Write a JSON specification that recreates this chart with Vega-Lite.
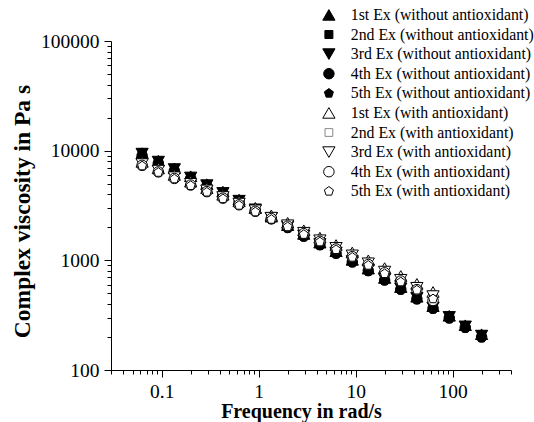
{
  "$schema": "https://vega.github.io/schema/vega-lite/v6.json",
  "width": 400,
  "height": 329,
  "autosize": {"type": "none"},
  "padding": {"left": 111, "top": 41, "right": 23, "bottom": 52},
  "background": "white",
  "config": {"view": {"stroke": null}, "font": "Liberation Serif"},
  "datasets": {
    "pts": [
      {"series": "1st Ex (without antioxidant)", "freq": 0.0628, "visc": 9500}, {"series": "1st Ex (without antioxidant)", "freq": 0.0923, "visc": 8100}, {"series": "1st Ex (without antioxidant)", "freq": 0.135, "visc": 6900}, {"series": "1st Ex (without antioxidant)", "freq": 0.199, "visc": 5850}, {"series": "1st Ex (without antioxidant)", "freq": 0.292, "visc": 4950}, {"series": "1st Ex (without antioxidant)", "freq": 0.428, "visc": 4230}, {"series": "1st Ex (without antioxidant)", "freq": 0.628, "visc": 3580}, {"series": "1st Ex (without antioxidant)", "freq": 0.923, "visc": 3000}, {"series": "1st Ex (without antioxidant)", "freq": 1.35, "visc": 2500}, {"series": "1st Ex (without antioxidant)", "freq": 1.99, "visc": 2090}, {"series": "1st Ex (without antioxidant)", "freq": 2.92, "visc": 1740}, {"series": "1st Ex (without antioxidant)", "freq": 4.28, "visc": 1450}, {"series": "1st Ex (without antioxidant)", "freq": 6.28, "visc": 1210}, {"series": "1st Ex (without antioxidant)", "freq": 9.23, "visc": 1010}, {"series": "1st Ex (without antioxidant)", "freq": 13.5, "visc": 840}, {"series": "1st Ex (without antioxidant)", "freq": 19.9, "visc": 690}, {"series": "1st Ex (without antioxidant)", "freq": 29.2, "visc": 570}, {"series": "1st Ex (without antioxidant)", "freq": 42.8, "visc": 465}, {"series": "1st Ex (without antioxidant)", "freq": 62.8, "visc": 382}, {"series": "1st Ex (without antioxidant)", "freq": 92.3, "visc": 312}, {"series": "1st Ex (without antioxidant)", "freq": 135, "visc": 256}, {"series": "1st Ex (without antioxidant)", "freq": 199, "visc": 212},
      {"series": "2nd Ex (without antioxidant)", "freq": 0.0628, "visc": 9600}, {"series": "2nd Ex (without antioxidant)", "freq": 0.0923, "visc": 8000}, {"series": "2nd Ex (without antioxidant)", "freq": 0.135, "visc": 6750}, {"series": "2nd Ex (without antioxidant)", "freq": 0.199, "visc": 5750}, {"series": "2nd Ex (without antioxidant)", "freq": 0.292, "visc": 4880}, {"series": "2nd Ex (without antioxidant)", "freq": 0.428, "visc": 4150}, {"series": "2nd Ex (without antioxidant)", "freq": 0.628, "visc": 3520}, {"series": "2nd Ex (without antioxidant)", "freq": 0.923, "visc": 2940}, {"series": "2nd Ex (without antioxidant)", "freq": 1.35, "visc": 2460}, {"series": "2nd Ex (without antioxidant)", "freq": 1.99, "visc": 2050}, {"series": "2nd Ex (without antioxidant)", "freq": 2.92, "visc": 1710}, {"series": "2nd Ex (without antioxidant)", "freq": 4.28, "visc": 1430}, {"series": "2nd Ex (without antioxidant)", "freq": 6.28, "visc": 1200}, {"series": "2nd Ex (without antioxidant)", "freq": 9.23, "visc": 995}, {"series": "2nd Ex (without antioxidant)", "freq": 13.5, "visc": 835}, {"series": "2nd Ex (without antioxidant)", "freq": 19.9, "visc": 685}, {"series": "2nd Ex (without antioxidant)", "freq": 29.2, "visc": 562}, {"series": "2nd Ex (without antioxidant)", "freq": 42.8, "visc": 460}, {"series": "2nd Ex (without antioxidant)", "freq": 62.8, "visc": 378}, {"series": "2nd Ex (without antioxidant)", "freq": 92.3, "visc": 310}, {"series": "2nd Ex (without antioxidant)", "freq": 135, "visc": 254}, {"series": "2nd Ex (without antioxidant)", "freq": 199, "visc": 210},
      {"series": "3rd Ex (without antioxidant)", "freq": 0.0628, "visc": 9400}, {"series": "3rd Ex (without antioxidant)", "freq": 0.0923, "visc": 7950}, {"series": "3rd Ex (without antioxidant)", "freq": 0.135, "visc": 6800}, {"series": "3rd Ex (without antioxidant)", "freq": 0.199, "visc": 5700}, {"series": "3rd Ex (without antioxidant)", "freq": 0.292, "visc": 4850}, {"series": "3rd Ex (without antioxidant)", "freq": 0.428, "visc": 4120}, {"series": "3rd Ex (without antioxidant)", "freq": 0.628, "visc": 3500}, {"series": "3rd Ex (without antioxidant)", "freq": 0.923, "visc": 2920}, {"series": "3rd Ex (without antioxidant)", "freq": 1.35, "visc": 2440}, {"series": "3rd Ex (without antioxidant)", "freq": 1.99, "visc": 2030}, {"series": "3rd Ex (without antioxidant)", "freq": 2.92, "visc": 1690}, {"series": "3rd Ex (without antioxidant)", "freq": 4.28, "visc": 1410}, {"series": "3rd Ex (without antioxidant)", "freq": 6.28, "visc": 1180}, {"series": "3rd Ex (without antioxidant)", "freq": 9.23, "visc": 985}, {"series": "3rd Ex (without antioxidant)", "freq": 13.5, "visc": 825}, {"series": "3rd Ex (without antioxidant)", "freq": 19.9, "visc": 676}, {"series": "3rd Ex (without antioxidant)", "freq": 29.2, "visc": 556}, {"series": "3rd Ex (without antioxidant)", "freq": 42.8, "visc": 455}, {"series": "3rd Ex (without antioxidant)", "freq": 62.8, "visc": 372}, {"series": "3rd Ex (without antioxidant)", "freq": 92.3, "visc": 305}, {"series": "3rd Ex (without antioxidant)", "freq": 135, "visc": 250}, {"series": "3rd Ex (without antioxidant)", "freq": 199, "visc": 206},
      {"series": "4th Ex (without antioxidant)", "freq": 0.0628, "visc": 9000}, {"series": "4th Ex (without antioxidant)", "freq": 0.0923, "visc": 7700}, {"series": "4th Ex (without antioxidant)", "freq": 0.135, "visc": 6550}, {"series": "4th Ex (without antioxidant)", "freq": 0.199, "visc": 5600}, {"series": "4th Ex (without antioxidant)", "freq": 0.292, "visc": 4750}, {"series": "4th Ex (without antioxidant)", "freq": 0.428, "visc": 4020}, {"series": "4th Ex (without antioxidant)", "freq": 0.628, "visc": 3420}, {"series": "4th Ex (without antioxidant)", "freq": 0.923, "visc": 2860}, {"series": "4th Ex (without antioxidant)", "freq": 1.35, "visc": 2390}, {"series": "4th Ex (without antioxidant)", "freq": 1.99, "visc": 1990}, {"series": "4th Ex (without antioxidant)", "freq": 2.92, "visc": 1660}, {"series": "4th Ex (without antioxidant)", "freq": 4.28, "visc": 1385}, {"series": "4th Ex (without antioxidant)", "freq": 6.28, "visc": 1160}, {"series": "4th Ex (without antioxidant)", "freq": 9.23, "visc": 965}, {"series": "4th Ex (without antioxidant)", "freq": 13.5, "visc": 805}, {"series": "4th Ex (without antioxidant)", "freq": 19.9, "visc": 660}, {"series": "4th Ex (without antioxidant)", "freq": 29.2, "visc": 545}, {"series": "4th Ex (without antioxidant)", "freq": 42.8, "visc": 445}, {"series": "4th Ex (without antioxidant)", "freq": 62.8, "visc": 365}, {"series": "4th Ex (without antioxidant)", "freq": 92.3, "visc": 298}, {"series": "4th Ex (without antioxidant)", "freq": 135, "visc": 245}, {"series": "4th Ex (without antioxidant)", "freq": 199, "visc": 200},
      {"series": "5th Ex (without antioxidant)", "freq": 0.0628, "visc": 8800}, {"series": "5th Ex (without antioxidant)", "freq": 0.0923, "visc": 7550}, {"series": "5th Ex (without antioxidant)", "freq": 0.135, "visc": 6450}, {"series": "5th Ex (without antioxidant)", "freq": 0.199, "visc": 5480}, {"series": "5th Ex (without antioxidant)", "freq": 0.292, "visc": 4650}, {"series": "5th Ex (without antioxidant)", "freq": 0.428, "visc": 3950}, {"series": "5th Ex (without antioxidant)", "freq": 0.628, "visc": 3370}, {"series": "5th Ex (without antioxidant)", "freq": 0.923, "visc": 2810}, {"series": "5th Ex (without antioxidant)", "freq": 1.35, "visc": 2350}, {"series": "5th Ex (without antioxidant)", "freq": 1.99, "visc": 1960}, {"series": "5th Ex (without antioxidant)", "freq": 2.92, "visc": 1630}, {"series": "5th Ex (without antioxidant)", "freq": 4.28, "visc": 1360}, {"series": "5th Ex (without antioxidant)", "freq": 6.28, "visc": 1140}, {"series": "5th Ex (without antioxidant)", "freq": 9.23, "visc": 950}, {"series": "5th Ex (without antioxidant)", "freq": 13.5, "visc": 790}, {"series": "5th Ex (without antioxidant)", "freq": 19.9, "visc": 650}, {"series": "5th Ex (without antioxidant)", "freq": 29.2, "visc": 535}, {"series": "5th Ex (without antioxidant)", "freq": 42.8, "visc": 436}, {"series": "5th Ex (without antioxidant)", "freq": 62.8, "visc": 358}, {"series": "5th Ex (without antioxidant)", "freq": 92.3, "visc": 292}, {"series": "5th Ex (without antioxidant)", "freq": 135, "visc": 240}, {"series": "5th Ex (without antioxidant)", "freq": 199, "visc": 196},
      {"series": "1st Ex (with antioxidant)", "freq": 0.0628, "visc": 7900}, {"series": "1st Ex (with antioxidant)", "freq": 0.0923, "visc": 6900}, {"series": "1st Ex (with antioxidant)", "freq": 0.135, "visc": 6000}, {"series": "1st Ex (with antioxidant)", "freq": 0.199, "visc": 5220}, {"series": "1st Ex (with antioxidant)", "freq": 0.292, "visc": 4550}, {"series": "1st Ex (with antioxidant)", "freq": 0.428, "visc": 3960}, {"series": "1st Ex (with antioxidant)", "freq": 0.628, "visc": 3450}, {"series": "1st Ex (with antioxidant)", "freq": 0.923, "visc": 3000}, {"series": "1st Ex (with antioxidant)", "freq": 1.35, "visc": 2570}, {"series": "1st Ex (with antioxidant)", "freq": 1.99, "visc": 2200}, {"series": "1st Ex (with antioxidant)", "freq": 2.92, "visc": 1880}, {"series": "1st Ex (with antioxidant)", "freq": 4.28, "visc": 1610}, {"series": "1st Ex (with antioxidant)", "freq": 6.28, "visc": 1380}, {"series": "1st Ex (with antioxidant)", "freq": 9.23, "visc": 1180}, {"series": "1st Ex (with antioxidant)", "freq": 13.5, "visc": 1000}, {"series": "1st Ex (with antioxidant)", "freq": 19.9, "visc": 850}, {"series": "1st Ex (with antioxidant)", "freq": 29.2, "visc": 720}, {"series": "1st Ex (with antioxidant)", "freq": 42.8, "visc": 610}, {"series": "1st Ex (with antioxidant)", "freq": 62.8, "visc": 515},
      {"series": "2nd Ex (with antioxidant)", "freq": 0.0628, "visc": 7650}, {"series": "2nd Ex (with antioxidant)", "freq": 0.0923, "visc": 6650}, {"series": "2nd Ex (with antioxidant)", "freq": 0.135, "visc": 5800}, {"series": "2nd Ex (with antioxidant)", "freq": 0.199, "visc": 5050}, {"series": "2nd Ex (with antioxidant)", "freq": 0.292, "visc": 4400}, {"series": "2nd Ex (with antioxidant)", "freq": 0.428, "visc": 3830}, {"series": "2nd Ex (with antioxidant)", "freq": 0.628, "visc": 3330}, {"series": "2nd Ex (with antioxidant)", "freq": 0.923, "visc": 2900}, {"series": "2nd Ex (with antioxidant)", "freq": 1.35, "visc": 2480}, {"series": "2nd Ex (with antioxidant)", "freq": 1.99, "visc": 2120}, {"series": "2nd Ex (with antioxidant)", "freq": 2.92, "visc": 1810}, {"series": "2nd Ex (with antioxidant)", "freq": 4.28, "visc": 1550}, {"series": "2nd Ex (with antioxidant)", "freq": 6.28, "visc": 1320}, {"series": "2nd Ex (with antioxidant)", "freq": 9.23, "visc": 1130}, {"series": "2nd Ex (with antioxidant)", "freq": 13.5, "visc": 960}, {"series": "2nd Ex (with antioxidant)", "freq": 19.9, "visc": 810}, {"series": "2nd Ex (with antioxidant)", "freq": 29.2, "visc": 685}, {"series": "2nd Ex (with antioxidant)", "freq": 42.8, "visc": 580}, {"series": "2nd Ex (with antioxidant)", "freq": 62.8, "visc": 490},
      {"series": "3rd Ex (with antioxidant)", "freq": 0.0628, "visc": 7550}, {"series": "3rd Ex (with antioxidant)", "freq": 0.0923, "visc": 6580}, {"series": "3rd Ex (with antioxidant)", "freq": 0.135, "visc": 5730}, {"series": "3rd Ex (with antioxidant)", "freq": 0.199, "visc": 4990}, {"series": "3rd Ex (with antioxidant)", "freq": 0.292, "visc": 4340}, {"series": "3rd Ex (with antioxidant)", "freq": 0.428, "visc": 3780}, {"series": "3rd Ex (with antioxidant)", "freq": 0.628, "visc": 3290}, {"series": "3rd Ex (with antioxidant)", "freq": 0.923, "visc": 2860}, {"series": "3rd Ex (with antioxidant)", "freq": 1.35, "visc": 2450}, {"series": "3rd Ex (with antioxidant)", "freq": 1.99, "visc": 2090}, {"series": "3rd Ex (with antioxidant)", "freq": 2.92, "visc": 1785}, {"series": "3rd Ex (with antioxidant)", "freq": 4.28, "visc": 1525}, {"series": "3rd Ex (with antioxidant)", "freq": 6.28, "visc": 1300}, {"series": "3rd Ex (with antioxidant)", "freq": 9.23, "visc": 1110}, {"series": "3rd Ex (with antioxidant)", "freq": 13.5, "visc": 940}, {"series": "3rd Ex (with antioxidant)", "freq": 19.9, "visc": 790}, {"series": "3rd Ex (with antioxidant)", "freq": 29.2, "visc": 665}, {"series": "3rd Ex (with antioxidant)", "freq": 42.8, "visc": 562}, {"series": "3rd Ex (with antioxidant)", "freq": 62.8, "visc": 472},
      {"series": "4th Ex (with antioxidant)", "freq": 0.0628, "visc": 7350}, {"series": "4th Ex (with antioxidant)", "freq": 0.0923, "visc": 6400}, {"series": "4th Ex (with antioxidant)", "freq": 0.135, "visc": 5580}, {"series": "4th Ex (with antioxidant)", "freq": 0.199, "visc": 4860}, {"series": "4th Ex (with antioxidant)", "freq": 0.292, "visc": 4230}, {"series": "4th Ex (with antioxidant)", "freq": 0.428, "visc": 3690}, {"series": "4th Ex (with antioxidant)", "freq": 0.628, "visc": 3210}, {"series": "4th Ex (with antioxidant)", "freq": 0.923, "visc": 2800}, {"series": "4th Ex (with antioxidant)", "freq": 1.35, "visc": 2400}, {"series": "4th Ex (with antioxidant)", "freq": 1.99, "visc": 2050}, {"series": "4th Ex (with antioxidant)", "freq": 2.92, "visc": 1750}, {"series": "4th Ex (with antioxidant)", "freq": 4.28, "visc": 1490}, {"series": "4th Ex (with antioxidant)", "freq": 6.28, "visc": 1270}, {"series": "4th Ex (with antioxidant)", "freq": 9.23, "visc": 1080}, {"series": "4th Ex (with antioxidant)", "freq": 13.5, "visc": 915}, {"series": "4th Ex (with antioxidant)", "freq": 19.9, "visc": 770}, {"series": "4th Ex (with antioxidant)", "freq": 29.2, "visc": 648}, {"series": "4th Ex (with antioxidant)", "freq": 42.8, "visc": 540}, {"series": "4th Ex (with antioxidant)", "freq": 62.8, "visc": 430},
      {"series": "5th Ex (with antioxidant)", "freq": 0.0628, "visc": 7250}, {"series": "5th Ex (with antioxidant)", "freq": 0.0923, "visc": 6330}, {"series": "5th Ex (with antioxidant)", "freq": 0.135, "visc": 5520}, {"series": "5th Ex (with antioxidant)", "freq": 0.199, "visc": 4800}, {"series": "5th Ex (with antioxidant)", "freq": 0.292, "visc": 4180}, {"series": "5th Ex (with antioxidant)", "freq": 0.428, "visc": 3640}, {"series": "5th Ex (with antioxidant)", "freq": 0.628, "visc": 3170}, {"series": "5th Ex (with antioxidant)", "freq": 0.923, "visc": 2760}, {"series": "5th Ex (with antioxidant)", "freq": 1.35, "visc": 2360}, {"series": "5th Ex (with antioxidant)", "freq": 1.99, "visc": 2020}, {"series": "5th Ex (with antioxidant)", "freq": 2.92, "visc": 1720}, {"series": "5th Ex (with antioxidant)", "freq": 4.28, "visc": 1470}, {"series": "5th Ex (with antioxidant)", "freq": 6.28, "visc": 1250}, {"series": "5th Ex (with antioxidant)", "freq": 9.23, "visc": 1065}, {"series": "5th Ex (with antioxidant)", "freq": 13.5, "visc": 900}, {"series": "5th Ex (with antioxidant)", "freq": 19.9, "visc": 755}, {"series": "5th Ex (with antioxidant)", "freq": 29.2, "visc": 635}, {"series": "5th Ex (with antioxidant)", "freq": 42.8, "visc": 535}, {"series": "5th Ex (with antioxidant)", "freq": 62.8, "visc": 445}
    ]
  },
  "data": {"name": "pts"},
  "mark": {"type": "point", "filled": true, "strokeWidth": 1, "opacity": 1},
  "encoding": {
    "x": {
      "field": "freq", "type": "quantitative",
      "scale": {"type": "log", "domain": [0.03, 400], "nice": false},
      "axis": {
        "values": [0.03, 0.04, 0.05, 0.06, 0.07, 0.08, 0.09, 0.1, 0.2, 0.3, 0.4, 0.5, 0.6, 0.7, 0.8, 0.9, 1, 2, 3, 4, 5, 6, 7, 8, 9, 10, 20, 30, 40, 50, 60, 70, 80, 90, 100, 200, 300, 400],
        "format": "~g",
        "labelExpr": "indexof([0.1, 1, 10, 100], datum.value) >= 0 ? datum.label : ''",
        "tickSize": {"condition": {"test": "indexof([0.1, 1, 10, 100], datum.value) >= 0", "value": 7}, "value": 4},
        "grid": false, "domainColor": "black", "tickColor": "black", "labelColor": "black",
        "labelFont": "Liberation Serif", "labelFontSize": 19.5, "labelPadding": 5, "labelOverlap": false, "labelFlush": false,
        "title": "Frequency in rad/s", "titleFont": "Liberation Serif", "titleFontSize": 20, "titleFontWeight": "bold", "titleColor": "black", "titlePadding": 1, "titleX": 190
      }
    },
    "y": {
      "field": "visc", "type": "quantitative",
      "scale": {"type": "log", "domain": [100, 100000], "nice": false},
      "axis": {
        "values": [100, 200, 300, 400, 500, 600, 700, 800, 900, 1000, 2000, 3000, 4000, 5000, 6000, 7000, 8000, 9000, 10000, 20000, 30000, 40000, 50000, 60000, 70000, 80000, 90000, 100000],
        "format": "d",
        "labelExpr": "indexof([100, 1000, 10000, 100000], datum.value) >= 0 ? datum.label : ''",
        "tickSize": {"condition": {"test": "indexof([100, 1000, 10000, 100000], datum.value) >= 0", "value": 7}, "value": 4},
        "grid": false, "domainColor": "black", "tickColor": "black", "labelColor": "black",
        "labelFont": "Liberation Serif", "labelFontSize": 19.5, "labelPadding": 5, "labelOverlap": false, "labelFlush": false,
        "title": "Complex viscosity in Pa s", "titleFont": "Liberation Serif", "titleFontSize": 23.5, "titleFontWeight": "bold", "titleColor": "black", "titlePadding": 6, "titleY": 170
      }
    },
    "shape": {
      "field": "series", "type": "nominal",
      "scale": {
        "domain": ["1st Ex (without antioxidant)", "2nd Ex (without antioxidant)", "3rd Ex (without antioxidant)", "4th Ex (without antioxidant)", "5th Ex (without antioxidant)", "1st Ex (with antioxidant)", "2nd Ex (with antioxidant)", "3rd Ex (with antioxidant)", "4th Ex (with antioxidant)", "5th Ex (with antioxidant)"],
        "range": ["triangle-up", "square", "triangle-down", "circle", "M0,-1L0.951,-0.309L0.588,0.809L-0.588,0.809L-0.951,-0.309Z", "triangle-up", "square", "triangle-down", "circle", "M0,-1L0.951,-0.309L0.588,0.809L-0.588,0.809L-0.951,-0.309Z"]
      },
      "legend": {
        "title": null, "orient": "none", "legendX": 210, "legendY": -34,
        "labelFont": "Liberation Serif", "labelFontSize": 15.8, "labelColor": "black",
        "labelOffset": 14, "rowPadding": 2.6, "symbolStrokeWidth": 1, "labelLimit": 400, "padding": 0
      }
    },
    "fill": {
      "field": "series", "type": "nominal",
      "scale": {
        "domain": ["1st Ex (without antioxidant)", "2nd Ex (without antioxidant)", "3rd Ex (without antioxidant)", "4th Ex (without antioxidant)", "5th Ex (without antioxidant)", "1st Ex (with antioxidant)", "2nd Ex (with antioxidant)", "3rd Ex (with antioxidant)", "4th Ex (with antioxidant)", "5th Ex (with antioxidant)"],
        "range": ["black", "black", "black", "black", "black", "white", "white", "white", "white", "white"]
      }
    },
    "stroke": {
      "field": "series", "type": "nominal",
      "scale": {
        "domain": ["1st Ex (without antioxidant)", "2nd Ex (without antioxidant)", "3rd Ex (without antioxidant)", "4th Ex (without antioxidant)", "5th Ex (without antioxidant)", "1st Ex (with antioxidant)", "2nd Ex (with antioxidant)", "3rd Ex (with antioxidant)", "4th Ex (with antioxidant)", "5th Ex (with antioxidant)"],
        "range": ["black", "black", "black", "black", "black", "black", "#888888", "black", "black", "black"]
      }
    },
    "size": {
      "field": "series", "type": "nominal",
      "scale": {
        "type": "ordinal",
        "domain": ["1st Ex (without antioxidant)", "2nd Ex (without antioxidant)", "3rd Ex (without antioxidant)", "4th Ex (without antioxidant)", "5th Ex (without antioxidant)", "1st Ex (with antioxidant)", "2nd Ex (with antioxidant)", "3rd Ex (with antioxidant)", "4th Ex (with antioxidant)", "5th Ex (with antioxidant)"],
        "range": [150, 64, 150, 110, 90, 150, 60, 150, 110, 90]
      }
    }
  }
}
